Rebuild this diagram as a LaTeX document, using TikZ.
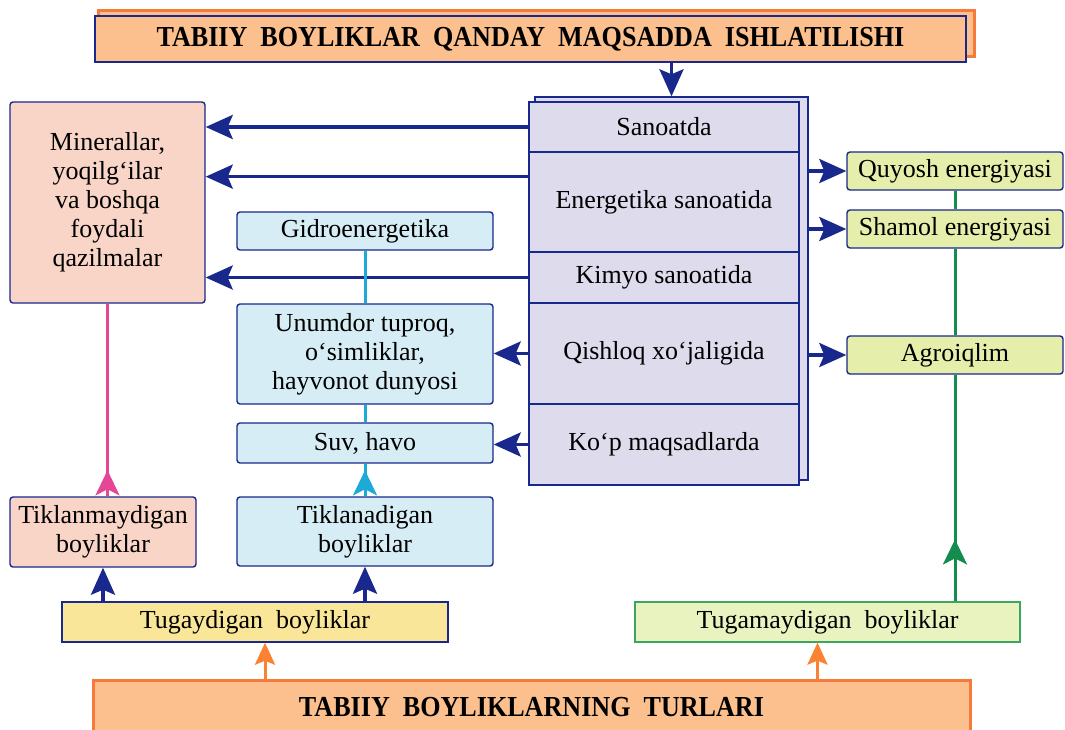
\documentclass[tikz,border=0pt]{standalone}
\usepackage{fontspec}
\setmainfont{Liberation Serif}
\usetikzlibrary{arrows.meta,decorations.markings,calc}
\definecolor{dblue}{RGB}{25,40,140}
\definecolor{titlefill}{RGB}{251,192,142}
\definecolor{titleedge}{RGB}{246,122,58}
\definecolor{lav}{RGB}{221,219,236}
\definecolor{pinkfill}{RGB}{249,213,200}
\definecolor{bluefill}{RGB}{214,237,245}
\definecolor{ygfill}{RGB}{229,238,170}
\definecolor{yelfill}{RGB}{249,230,152}
\definecolor{lgfill}{RGB}{233,243,192}
\definecolor{gborder}{RGB}{60,165,95}
\definecolor{gline}{RGB}{20,140,80}
\definecolor{cline}{RGB}{30,170,215}
\definecolor{pline}{RGB}{230,70,150}
\definecolor{oarrow}{RGB}{250,130,50}
\newcommand{\ttlfont}{\fontsize{29}{32}\selectfont\bfseries}
\begin{document}
\begin{tikzpicture}[x=1pt,y=-1pt,
  font=\fontsize{26}{29}\selectfont,
  box/.style={draw=dblue, line width=1.4pt, rounded corners=3pt, inner sep=0pt, align=center, text=black},
  rowbox/.style={draw=dblue, line width=1.4pt, fill=lav, inner sep=0pt, minimum width=270pt, align=center},
  darrow/.style={draw=dblue, line width=3.5pt, -{Stealth[length=27pt,width=24pt,inset=5pt]}},
  oarr/.style={draw=oarrow, line width=3pt, -{Stealth[length=22pt,width=20pt,inset=4pt]}},
  midtip/.style args={#1 at #2}{postaction={decorate}, decoration={markings, mark=at position #2 with {\arrow[#1]{Stealth[length=25pt,width=24pt,inset=6pt]}}}}
]
\useasboundingbox (0,0) rectangle (1065,729);
\fill[white] (0,0) rectangle (1065,729);

% top title
\node[draw=titleedge, line width=3pt, fill=titlefill, minimum width=876pt, minimum height=46pt, inner sep=0pt] (titleback) at (536,33) {};
\node[draw=dblue, line width=1.5pt, fill=titlefill, minimum width=871pt, minimum height=46pt, inner sep=0pt] (title) at (530.5,39)
  {\ttlfont\scalebox{0.9}[1]{TABIIY\ \ BOYLIKLAR\ \ QANDAY\ \ MAQSADDA\ \ ISHLATILISHI}};

% purple block
\node[draw=dblue, line width=1.4pt, fill=lav, minimum width=273pt, minimum height=383pt, inner sep=0pt] (back) at (671.5,288.5) {};
\node[rowbox, minimum height=50pt] (san) at (664,127) {Sanoatda};
\node[rowbox, minimum height=100pt] (ener) at (664,202) {Energetika sanoatida};
\node[rowbox, minimum height=51pt] (kim) at (664,277.5) {Kimyo sanoatida};
\node[rowbox, minimum height=101pt] (qish) at (664,353.5) {Qishloq xo‘jaligida};
\node[rowbox, minimum height=81pt] (kop) at (664,444.5) {Ko‘p maqsadlarda};
\coordinate (enerw) at ($(ener.north west)!0.25!(ener.south west)$);

% left boxes
\node[box, fill=pinkfill, minimum width=195pt, minimum height=201pt] (min) at (107.5,202.5)
  {Minerallar,\\yoqilg‘ilar\\va boshqa\\foydali\\qazilmalar};
\node[box, fill=bluefill, minimum width=256pt, minimum height=38pt] (gidro) at (365,231) {Gidroenergetika};
\node[box, fill=bluefill, minimum width=256pt, minimum height=100pt] (unum) at (365,354)
  {Unumdor tuproq,\\o‘simliklar,\\hayvonot dunyosi};
\node[box, fill=bluefill, minimum width=256pt, minimum height=40pt] (suv) at (365,443) {Suv, havo};
\node[box, fill=pinkfill, minimum width=186pt, minimum height=70pt] (tiklm) at (103,532) {Tiklanmaydigan\\boyliklar};
\node[box, fill=bluefill, minimum width=256pt, minimum height=69pt] (tikla) at (365,531.5) {Tiklanadigan\\boyliklar};

% right boxes
\node[box, fill=ygfill, minimum width=216pt, minimum height=38pt] (quy) at (955,171) {Quyosh energiyasi};
\node[box, fill=ygfill, minimum width=216pt, minimum height=38pt] (sham) at (955,229) {Shamol energiyasi};
\node[box, fill=ygfill, minimum width=216pt, minimum height=38pt] (agro) at (955,355) {Agroiqlim};

% bottom boxes
\node[box, rounded corners=0pt, fill=yelfill, minimum width=386pt, minimum height=40pt] (tugay) at (255,622) {Tugaydigan\ \ boyliklar};
\node[box, rounded corners=0pt, draw=gborder, line width=1.2pt, fill=lgfill, minimum width=385pt, minimum height=40pt] (tugam) at (827.5,622) {Tugamaydigan\ \ boyliklar};
\node[draw=titleedge, line width=3pt, fill=titlefill, minimum width=877pt, minimum height=55pt, inner sep=0pt] (bottom) at (531.5,707.5)
  {\ttlfont\scalebox{0.9}[1]{TABIIY\ \ BOYLIKLARNING\ \ TURLARI}};

% connectors
\draw[darrow] (title.south -| back.north) -- (back.north);
\draw[darrow] (san.west) -- (san.west -| min.east);
\draw[darrow] (enerw) -- (enerw -| min.east);
\draw[darrow] (kim.west) -- (kim.west -| min.east);
\draw[darrow] (qish.west) -- (qish.west -| unum.east);
\draw[darrow] (kop.west) -- (kop.west -| suv.east);
\draw[darrow] (back.east |- quy.west) -- (quy.west);
\draw[darrow] (back.east |- sham.west) -- (sham.west);
\draw[darrow] (back.east |- agro.west) -- (agro.west);

\draw[draw=cline, line width=3pt] (gidro.south) -- (unum.north);
\draw[draw=cline, line width=3pt] (unum.south) -- (suv.north);
\draw[draw=cline, line width=3pt, midtip={cline} at 26pt] (tikla.north) -- (suv.south);

\draw[draw=gline, line width=3pt] (quy.south) -- (sham.north);
\draw[draw=gline, line width=3pt] (sham.south) -- (agro.north);
\draw[draw=gline, line width=3pt, midtip={gline} at 62pt] (agro.south |- tugam.north) -- (agro.south);

\draw[draw=pline, line width=3pt, midtip={pline} at 26pt] (min.south |- tiklm.north) -- (min.south);

\draw[darrow] (tiklm.south |- tugay.north) -- (tiklm.south);
\draw[darrow] (tikla.south |- tugay.north) -- (tikla.south);

\draw[oarr] ([xshift=10pt]tugay.south |- bottom.north) -- ([xshift=10pt]tugay.south);
\draw[oarr] ([xshift=-10pt]tugam.south |- bottom.north) -- ([xshift=-10pt]tugam.south);
\end{tikzpicture}
\end{document}
